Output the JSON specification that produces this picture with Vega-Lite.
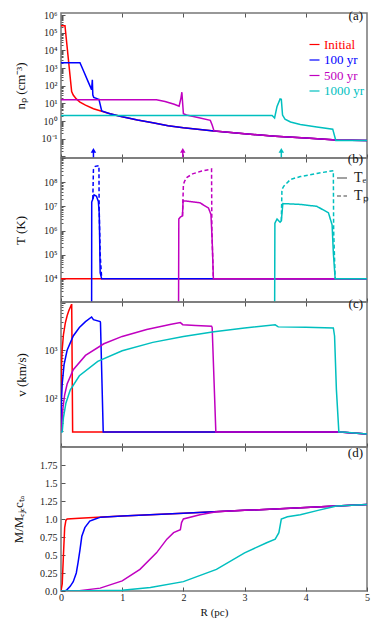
{
  "$schema": "https://vega.github.io/schema/vega-lite/v6.json",
  "padding": {"left": 11, "top": 9, "right": 14, "bottom": 5},
  "bounds": "flush",
  "spacing": 0,
  "resolve": {"scale": {"color": "independent", "strokeDash": "independent"}, "legend": {"color": "independent", "strokeDash": "independent"}},
  "config": {
    "font": "Liberation Serif, Times New Roman, serif",
    "view": {"stroke": "#777777", "strokeWidth": 1.5},
    "axis": {"domain": false, "grid": false, "tickColor": "#555555", "tickWidth": 1, "labelFont": "Liberation Serif, Times New Roman, serif", "titleFont": "Liberation Serif, Times New Roman, serif", "labelFontSize": 10, "titleFontSize": 13, "titleFontWeight": "normal", "labelColor": "#222222", "titleColor": "#111111", "labelOverlap": false},
    "legend": {"labelFont": "Liberation Serif, Times New Roman, serif"},
    "title": {"font": "Liberation Serif, Times New Roman, serif", "fontSize": 13, "fontWeight": "normal", "color": "#111111", "anchor": "end", "frame": "group", "offset": -13, "dx": -4}
  },
  "datasets": {
    "dens": [
      {"s":"Initial","x":0,"y":250000},{"s":"Initial","x":0.065,"y":250000},{"s":"Initial","x":0.174,"y":47},{"s":"Initial","x":0.2,"y":30},{"s":"Initial","x":0.25,"y":18},{"s":"Initial","x":0.31,"y":12},{"s":"Initial","x":0.4,"y":8},{"s":"Initial","x":0.53,"y":5},{"s":"Initial","x":0.665,"y":3.6},{"s":"Initial","x":0.8,"y":2.6},{"s":"Initial","x":1,"y":1.75},{"s":"Initial","x":1.25,"y":1.15},{"s":"Initial","x":1.5,"y":0.8},{"s":"Initial","x":1.75,"y":0.55},{"s":"Initial","x":2,"y":0.42},{"s":"Initial","x":2.5,"y":0.28},{"s":"Initial","x":3,"y":0.19},{"s":"Initial","x":3.5,"y":0.14},{"s":"Initial","x":4,"y":0.11},{"s":"Initial","x":4.5,"y":0.085},{"s":"Initial","x":5,"y":0.08},
      {"s":"100 yr","x":0,"y":2000},{"s":"100 yr","x":0.31,"y":2000},{"s":"100 yr","x":0.36,"y":800},{"s":"100 yr","x":0.45,"y":150},{"s":"100 yr","x":0.5,"y":60},{"s":"100 yr","x":0.512,"y":220},{"s":"100 yr","x":0.52,"y":30},{"s":"100 yr","x":0.535,"y":22},{"s":"100 yr","x":0.6,"y":18},{"s":"100 yr","x":0.62,"y":17},{"s":"100 yr","x":0.665,"y":3.8},{"s":"100 yr","x":0.8,"y":2.6},{"s":"100 yr","x":1,"y":1.75},{"s":"100 yr","x":1.25,"y":1.15},{"s":"100 yr","x":1.5,"y":0.8},{"s":"100 yr","x":1.75,"y":0.55},{"s":"100 yr","x":2,"y":0.42},{"s":"100 yr","x":2.5,"y":0.28},{"s":"100 yr","x":3,"y":0.19},{"s":"100 yr","x":3.5,"y":0.14},{"s":"100 yr","x":4,"y":0.11},{"s":"100 yr","x":4.5,"y":0.085},{"s":"100 yr","x":5,"y":0.08},
      {"s":"500 yr","x":0,"y":16},{"s":"500 yr","x":1.56,"y":16},{"s":"500 yr","x":1.7,"y":13},{"s":"500 yr","x":1.85,"y":9},{"s":"500 yr","x":1.93,"y":7},{"s":"500 yr","x":1.96,"y":20},{"s":"500 yr","x":1.975,"y":43},{"s":"500 yr","x":1.99,"y":8},{"s":"500 yr","x":2,"y":2.6},{"s":"500 yr","x":2.05,"y":2.2},{"s":"500 yr","x":2.2,"y":1.7},{"s":"500 yr","x":2.44,"y":1.1},{"s":"500 yr","x":2.47,"y":0.6},{"s":"500 yr","x":2.5,"y":0.28},{"s":"500 yr","x":3,"y":0.19},{"s":"500 yr","x":3.5,"y":0.14},{"s":"500 yr","x":4,"y":0.11},{"s":"500 yr","x":4.5,"y":0.085},{"s":"500 yr","x":5,"y":0.08},
      {"s":"1000 yr","x":0,"y":2.1},{"s":"1000 yr","x":3.45,"y":2.1},{"s":"1000 yr","x":3.49,"y":1.5},{"s":"1000 yr","x":3.53,"y":6.8},{"s":"1000 yr","x":3.58,"y":18},{"s":"1000 yr","x":3.6,"y":17},{"s":"1000 yr","x":3.62,"y":2.2},{"s":"1000 yr","x":3.66,"y":1.3},{"s":"1000 yr","x":3.75,"y":0.9},{"s":"1000 yr","x":3.91,"y":0.65},{"s":"1000 yr","x":4.18,"y":0.47},{"s":"1000 yr","x":4.44,"y":0.35},{"s":"1000 yr","x":4.49,"y":0.08},{"s":"1000 yr","x":5,"y":0.08}
    ],
    "arrows": [
      {"s":"100 yr","x":0.53},{"s":"500 yr","x":1.99},{"s":"1000 yr","x":3.6}
    ],
    "frame": [{"edge": "top"}],
    "temp": [
      {"s":"Initial","t":"Tₑ","x":0,"y":10000},{"s":"Initial","t":"Tₑ","x":5,"y":10000},
      {"s":"100 yr","t":"Tₑ","x":0,"y":100},{"s":"100 yr","t":"Tₑ","x":0.5,"y":100},{"s":"100 yr","t":"Tₑ","x":0.502,"y":15000000},{"s":"100 yr","t":"Tₑ","x":0.52,"y":20000000},{"s":"100 yr","t":"Tₑ","x":0.54,"y":30000000},{"s":"100 yr","t":"Tₑ","x":0.58,"y":26000000},{"s":"100 yr","t":"Tₑ","x":0.61,"y":16000000},{"s":"100 yr","t":"Tₑ","x":0.625,"y":5000000},{"s":"100 yr","t":"Tₑ","x":0.64,"y":18000},{"s":"100 yr","t":"Tₑ","x":0.665,"y":10000},{"s":"100 yr","t":"Tₑ","x":5,"y":10000},
      {"s":"100 yr","t":"Tₚ","x":0.52,"y":20000000},{"s":"100 yr","t":"Tₚ","x":0.53,"y":330000000},{"s":"100 yr","t":"Tₚ","x":0.56,"y":450000000},{"s":"100 yr","t":"Tₚ","x":0.62,"y":480000000},{"s":"100 yr","t":"Tₚ","x":0.623,"y":10000000},{"s":"100 yr","t":"Tₚ","x":0.64,"y":100000},{"s":"100 yr","t":"Tₚ","x":0.665,"y":10000},
      {"s":"500 yr","t":"Tₑ","x":0,"y":100},{"s":"500 yr","t":"Tₑ","x":1.92,"y":100},{"s":"500 yr","t":"Tₑ","x":1.925,"y":3000000},{"s":"500 yr","t":"Tₑ","x":1.95,"y":3600000},{"s":"500 yr","t":"Tₑ","x":1.985,"y":4000000},{"s":"500 yr","t":"Tₑ","x":1.995,"y":17000000},{"s":"500 yr","t":"Tₑ","x":2.1,"y":16000000},{"s":"500 yr","t":"Tₑ","x":2.27,"y":14000000},{"s":"500 yr","t":"Tₑ","x":2.41,"y":8500000},{"s":"500 yr","t":"Tₑ","x":2.45,"y":4600000},{"s":"500 yr","t":"Tₑ","x":2.47,"y":400000},{"s":"500 yr","t":"Tₑ","x":2.49,"y":10000},{"s":"500 yr","t":"Tₑ","x":5,"y":10000},
      {"s":"500 yr","t":"Tₚ","x":1.985,"y":4000000},{"s":"500 yr","t":"Tₚ","x":2,"y":80000000},{"s":"500 yr","t":"Tₚ","x":2.02,"y":110000000},{"s":"500 yr","t":"Tₚ","x":2.06,"y":160000000},{"s":"500 yr","t":"Tₚ","x":2.15,"y":220000000},{"s":"500 yr","t":"Tₚ","x":2.3,"y":290000000},{"s":"500 yr","t":"Tₚ","x":2.46,"y":350000000},{"s":"500 yr","t":"Tₚ","x":2.465,"y":1000000},{"s":"500 yr","t":"Tₚ","x":2.49,"y":10000},
      {"s":"1000 yr","t":"Tₑ","x":0,"y":100},{"s":"1000 yr","t":"Tₑ","x":3.49,"y":100},{"s":"1000 yr","t":"Tₑ","x":3.495,"y":2000000},{"s":"1000 yr","t":"Tₑ","x":3.53,"y":3000000},{"s":"1000 yr","t":"Tₑ","x":3.58,"y":2200000},{"s":"1000 yr","t":"Tₑ","x":3.6,"y":2500000},{"s":"1000 yr","t":"Tₑ","x":3.625,"y":13000000},{"s":"1000 yr","t":"Tₑ","x":3.91,"y":12000000},{"s":"1000 yr","t":"Tₑ","x":4.18,"y":10000000},{"s":"1000 yr","t":"Tₑ","x":4.37,"y":5400000},{"s":"1000 yr","t":"Tₑ","x":4.43,"y":1700000},{"s":"1000 yr","t":"Tₑ","x":4.45,"y":120000},{"s":"1000 yr","t":"Tₑ","x":4.48,"y":10000},{"s":"1000 yr","t":"Tₑ","x":5,"y":10000},
      {"s":"1000 yr","t":"Tₚ","x":3.6,"y":2500000},{"s":"1000 yr","t":"Tₚ","x":3.61,"y":50000000},{"s":"1000 yr","t":"Tₚ","x":3.64,"y":68000000},{"s":"1000 yr","t":"Tₚ","x":3.75,"y":130000000},{"s":"1000 yr","t":"Tₚ","x":3.91,"y":170000000},{"s":"1000 yr","t":"Tₚ","x":4.18,"y":230000000},{"s":"1000 yr","t":"Tₚ","x":4.45,"y":300000000},{"s":"1000 yr","t":"Tₚ","x":4.455,"y":1000000},{"s":"1000 yr","t":"Tₚ","x":4.48,"y":10000}
    ],
    "vel": [
      {"s":"Initial","x":0,"y":19.5},{"s":"Initial","x":0.005,"y":265},{"s":"Initial","x":0.01,"y":530},{"s":"Initial","x":0.02,"y":1060},{"s":"Initial","x":0.04,"y":2120},{"s":"Initial","x":0.07,"y":3710},{"s":"Initial","x":0.1,"y":5300},{"s":"Initial","x":0.13,"y":6890},{"s":"Initial","x":0.17,"y":9000},{"s":"Initial","x":0.175,"y":9000},{"s":"Initial","x":0.19,"y":19.5},{"s":"Initial","x":4.55,"y":19.5},{"s":"Initial","x":5,"y":17.5},
      {"s":"100 yr","x":0,"y":19.5},{"s":"100 yr","x":0.002,"y":20},{"s":"100 yr","x":0.005,"y":50},{"s":"100 yr","x":0.01,"y":100},{"s":"100 yr","x":0.02,"y":200},{"s":"100 yr","x":0.05,"y":500},{"s":"100 yr","x":0.1,"y":1000},{"s":"100 yr","x":0.2,"y":2000},{"s":"100 yr","x":0.3,"y":3000},{"s":"100 yr","x":0.4,"y":4000},{"s":"100 yr","x":0.5,"y":5000},{"s":"100 yr","x":0.53,"y":4400},{"s":"100 yr","x":0.64,"y":4000},{"s":"100 yr","x":0.645,"y":3800},{"s":"100 yr","x":0.69,"y":19.5},{"s":"100 yr","x":4.55,"y":19.5},{"s":"100 yr","x":5,"y":17.5},
      {"s":"500 yr","x":0,"y":19.5},{"s":"500 yr","x":0.01,"y":19.6},{"s":"500 yr","x":0.015,"y":29},{"s":"500 yr","x":0.03,"y":59},{"s":"500 yr","x":0.06,"y":117},{"s":"500 yr","x":0.1,"y":196},{"s":"500 yr","x":0.2,"y":391},{"s":"500 yr","x":0.4,"y":782},{"s":"500 yr","x":0.7,"y":1370},{"s":"500 yr","x":1,"y":1955},{"s":"500 yr","x":1.4,"y":2740},{"s":"500 yr","x":1.8,"y":3520},{"s":"500 yr","x":1.95,"y":3810},{"s":"500 yr","x":1.99,"y":3450},{"s":"500 yr","x":2.2,"y":3330},{"s":"500 yr","x":2.46,"y":3200},{"s":"500 yr","x":2.47,"y":3000},{"s":"500 yr","x":2.53,"y":19.5},{"s":"500 yr","x":4.55,"y":19.5},{"s":"500 yr","x":5,"y":17.5},
      {"s":"1000 yr","x":0,"y":19.5},{"s":"1000 yr","x":0.02,"y":19.6},{"s":"1000 yr","x":0.04,"y":39},{"s":"1000 yr","x":0.08,"y":78},{"s":"1000 yr","x":0.15,"y":147},{"s":"1000 yr","x":0.3,"y":293},{"s":"1000 yr","x":0.6,"y":587},{"s":"1000 yr","x":1,"y":978},{"s":"1000 yr","x":1.5,"y":1467},{"s":"1000 yr","x":2,"y":1956},{"s":"1000 yr","x":2.5,"y":2445},{"s":"1000 yr","x":3,"y":2934},{"s":"1000 yr","x":3.5,"y":3420},{"s":"1000 yr","x":3.55,"y":3100},{"s":"1000 yr","x":4,"y":3050},{"s":"1000 yr","x":4.45,"y":2950},{"s":"1000 yr","x":4.47,"y":2000},{"s":"1000 yr","x":4.5,"y":150},{"s":"1000 yr","x":4.54,"y":19.5},{"s":"1000 yr","x":4.6,"y":19.5},{"s":"1000 yr","x":5,"y":17.5}
    ],
    "mass": [
      {"s":"Initial","x":0,"y":0},{"s":"Initial","x":0.02,"y":0.1},{"s":"Initial","x":0.04,"y":0.5},{"s":"Initial","x":0.06,"y":0.88},{"s":"Initial","x":0.08,"y":0.98},{"s":"Initial","x":0.1,"y":1},{"s":"Initial","x":0.3,"y":1.01},{"s":"Initial","x":0.6,"y":1.024},{"s":"Initial","x":1,"y":1.04},{"s":"Initial","x":2,"y":1.08},{"s":"Initial","x":3,"y":1.12},{"s":"Initial","x":4,"y":1.16},{"s":"Initial","x":5,"y":1.2},
      {"s":"100 yr","x":0,"y":0},{"s":"100 yr","x":0.065,"y":0},{"s":"100 yr","x":0.1,"y":0.02},{"s":"100 yr","x":0.15,"y":0.065},{"s":"100 yr","x":0.2,"y":0.13},{"s":"100 yr","x":0.25,"y":0.25},{"s":"100 yr","x":0.28,"y":0.4},{"s":"100 yr","x":0.31,"y":0.57},{"s":"100 yr","x":0.34,"y":0.76},{"s":"100 yr","x":0.39,"y":0.88},{"s":"100 yr","x":0.47,"y":0.97},{"s":"100 yr","x":0.56,"y":1},{"s":"100 yr","x":0.65,"y":1.026},{"s":"100 yr","x":1,"y":1.04},{"s":"100 yr","x":2,"y":1.08},{"s":"100 yr","x":3,"y":1.12},{"s":"100 yr","x":4,"y":1.16},{"s":"100 yr","x":5,"y":1.2},
      {"s":"500 yr","x":0,"y":0},{"s":"500 yr","x":0.3,"y":0.005},{"s":"500 yr","x":0.64,"y":0.04},{"s":"500 yr","x":1,"y":0.14},{"s":"500 yr","x":1.29,"y":0.3},{"s":"500 yr","x":1.56,"y":0.53},{"s":"500 yr","x":1.73,"y":0.72},{"s":"500 yr","x":1.84,"y":0.81},{"s":"500 yr","x":1.95,"y":0.85},{"s":"500 yr","x":1.97,"y":0.95},{"s":"500 yr","x":2,"y":1},{"s":"500 yr","x":2.27,"y":1.06},{"s":"500 yr","x":2.54,"y":1.1},{"s":"500 yr","x":3,"y":1.12},{"s":"500 yr","x":4,"y":1.16},{"s":"500 yr","x":5,"y":1.2},
      {"s":"1000 yr","x":0,"y":0},{"s":"1000 yr","x":0.5,"y":0.002},{"s":"1000 yr","x":1,"y":0.01},{"s":"1000 yr","x":1.46,"y":0.05},{"s":"1000 yr","x":2,"y":0.13},{"s":"1000 yr","x":2.54,"y":0.3},{"s":"1000 yr","x":3,"y":0.53},{"s":"1000 yr","x":3.36,"y":0.67},{"s":"1000 yr","x":3.5,"y":0.72},{"s":"1000 yr","x":3.56,"y":0.81},{"s":"1000 yr","x":3.6,"y":1},{"s":"1000 yr","x":3.7,"y":1.03},{"s":"1000 yr","x":3.91,"y":1.06},{"s":"1000 yr","x":4.2,"y":1.12},{"s":"1000 yr","x":4.45,"y":1.17},{"s":"1000 yr","x":4.5,"y":1.18},{"s":"1000 yr","x":5,"y":1.2}
    ]
  },
  "vconcat": [
    {
      "width": 306, "height": 145,
      "title": {"text": "(a)"},
      "layer": [
        {
          "data": {"name": "dens"},
          "mark": {"type": "line", "strokeWidth": 1.5, "clip": true},
          "encoding": {
            "x": {"field": "x", "type": "quantitative", "scale": {"domain": [0, 5], "nice": false}, "axis": {"orient": "bottom", "values": [0,1,2,3,4,5], "labels": false, "title": null, "tickSize": -4}},
            "y": {"field": "y", "type": "quantitative", "scale": {"type": "log", "domain": [0.0082, 1300000], "nice": false},
              "axis": {"title": "nₚ (cm⁻³)", "tickCount": 40, "tickSize": {"condition": {"test": "abs(log(datum.value)/LN10 - round(log(datum.value)/LN10)) < 0.01", "value": -4}, "value": -2},
                "labelExpr": "abs(log(datum.value)/LN10 - round(log(datum.value)/LN10)) < 0.01 && datum.value > 0.05 && datum.value < 2000000 ? '10' + ['⁻²','⁻¹','⁰','¹','²','³','⁴','⁵','⁶','⁷','⁸','⁹'][round(log(datum.value)/LN10)+2] : ''",
                "labelPadding": 8, "titlePadding": 14}},
            "color": {"field": "s", "type": "nominal", "scale": {"domain": ["Initial","100 yr","500 yr","1000 yr"], "range": ["#ff0000","#0000ff","#c000c0","#00bfbf"]},
              "legend": {"title": null, "orient": "none", "legendX": 247, "legendY": 25, "symbolType": "stroke", "symbolSize": 100, "symbolStrokeWidth": 1.2, "symbolOpacity": 0.45, "labelFontSize": 13, "labelOffset": 3, "rowPadding": 1.5,
                "labelColor": {"expr": "datum.value == 'Initial' ? '#ff0000' : datum.value == '100 yr' ? '#0000ff' : datum.value == '500 yr' ? '#c000c0' : '#00bfbf'"}}}
          }
        },
        {
          "data": {"name": "arrows"},
          "mark": {"type": "rule", "strokeWidth": 1.5},
          "encoding": {
            "x": {"field": "x", "type": "quantitative", "axis": null},
            "y": {"datum": 0.0083},
            "y2": {"datum": 0.022},
            "color": {"field": "s", "type": "nominal"}
          }
        },
        {
          "data": {"name": "arrows"},
          "mark": {"type": "point", "shape": "triangle-up", "filled": true, "size": 30, "opacity": 1},
          "encoding": {
            "x": {"field": "x", "type": "quantitative", "axis": null},
            "y": {"datum": 0.022},
            "color": {"field": "s", "type": "nominal"}
          }
        },
        {
          "data": {"name": "frame"},
          "mark": {"type": "rule", "opacity": 0},
          "encoding": {
            "x": {"datum": 0, "type": "quantitative", "axis": {"orient": "top", "values": [1,2,3,4], "labels": false, "title": null, "tickSize": -4}}
          }
        }
      ]
    },
    {
      "width": 306, "height": 144,
      "title": {"text": "(b)"},
      "layer": [
        {
          "data": {"name": "temp"},
          "mark": {"type": "line", "strokeWidth": 1.5, "clip": true},
          "encoding": {
            "x": {"field": "x", "type": "quantitative", "scale": {"domain": [0, 5], "nice": false}, "axis": {"orient": "bottom", "values": [0,1,2,3,4,5], "labels": false, "title": null, "tickSize": -4}},
            "y": {"field": "y", "type": "quantitative", "scale": {"type": "log", "domain": [1100, 1000000000], "nice": false},
              "axis": {"title": "T (K)", "tickCount": 40, "tickSize": {"condition": {"test": "abs(log(datum.value)/LN10 - round(log(datum.value)/LN10)) < 0.01", "value": -4}, "value": -2},
                "labelExpr": "abs(log(datum.value)/LN10 - round(log(datum.value)/LN10)) < 0.01 && datum.value > 5000 && datum.value < 500000000 ? '10' + ['⁻²','⁻¹','⁰','¹','²','³','⁴','⁵','⁶','⁷','⁸','⁹'][round(log(datum.value)/LN10)+2] : ''",
                "labelPadding": 8, "titlePadding": 16}},
            "color": {"field": "s", "type": "nominal", "scale": {"domain": ["Initial","100 yr","500 yr","1000 yr"], "range": ["#ff0000","#0000ff","#c000c0","#00bfbf"]}, "legend": null},
            "strokeDash": {"field": "t", "type": "nominal", "scale": {"domain": ["Tₑ","Tₚ"], "range": [[1,0],[4,2.5]]},
              "legend": {"title": null, "orient": "none", "legendX": 274, "legendY": 13, "symbolType": "stroke", "symbolSize": 100, "symbolStrokeWidth": 1.2, "symbolStrokeColor": "#444444", "labelFontSize": 14, "labelOffset": 5, "rowPadding": 4, "labelColor": "#222222"}},
            "detail": {"field": "s"}
          }
        },
        {
          "data": {"name": "frame"},
          "mark": {"type": "rule", "opacity": 0},
          "encoding": {
            "x": {"datum": 0, "type": "quantitative", "axis": {"orient": "top", "values": [1,2,3,4], "labels": false, "title": null, "tickSize": -4}}
          }
        }
      ]
    },
    {
      "width": 306, "height": 145,
      "title": {"text": "(c)"},
      "layer": [
        {
          "data": {"name": "vel"},
          "mark": {"type": "line", "strokeWidth": 1.5, "clip": true},
          "encoding": {
            "x": {"field": "x", "type": "quantitative", "scale": {"domain": [0, 5], "nice": false}, "axis": {"orient": "bottom", "values": [0,1,2,3,4,5], "labels": false, "title": null, "tickSize": -4}},
            "y": {"field": "y", "type": "quantitative", "scale": {"type": "log", "domain": [9.4, 10300], "nice": false},
              "axis": {"title": "v (km/s)", "tickCount": 40, "tickSize": {"condition": {"test": "abs(log(datum.value)/LN10 - round(log(datum.value)/LN10)) < 0.01", "value": -4}, "value": -2},
                "labelExpr": "abs(log(datum.value)/LN10 - round(log(datum.value)/LN10)) < 0.01 && datum.value > 50 && datum.value < 5000 ? '10' + ['⁻²','⁻¹','⁰','¹','²','³','⁴','⁵','⁶','⁷','⁸','⁹'][round(log(datum.value)/LN10)+2] : ''",
                "labelPadding": 8, "titlePadding": 16}},
            "color": {"field": "s", "type": "nominal", "scale": {"domain": ["Initial","100 yr","500 yr","1000 yr"], "range": ["#ff0000","#0000ff","#c000c0","#00bfbf"]}, "legend": null}
          }
        },
        {
          "data": {"name": "frame"},
          "mark": {"type": "rule", "opacity": 0},
          "encoding": {
            "x": {"datum": 0, "type": "quantitative", "axis": {"orient": "top", "values": [1,2,3,4], "labels": false, "title": null, "tickSize": -4}}
          }
        }
      ]
    },
    {
      "width": 306, "height": 144,
      "title": {"text": "(d)"},
      "layer": [
        {
          "data": {"name": "mass"},
          "mark": {"type": "line", "strokeWidth": 1.5, "clip": true},
          "encoding": {
            "x": {"field": "x", "type": "quantitative", "scale": {"domain": [0, 5], "nice": false}, "axis": {"orient": "bottom", "values": [0,1,2,3,4,5], "title": "R (pc)", "tickSize": -4, "labelPadding": 5, "labelFontSize": 10, "titleFontSize": 11, "titlePadding": 4, "labelFlush": false}},
            "y": {"field": "y", "type": "quantitative", "scale": {"domain": [0, 2], "nice": false, "zero": false},
              "axis": {"title": "M/Mₑⱼₑcₜₐ", "values": [0,0.25,0.5,0.75,1,1.25,1.5,1.75], "tickSize": -4,
                "labelExpr": "datum.value == 0 || datum.value == 0.5 || datum.value == 1 || datum.value == 1.5 ? format(datum.value, '.1f') : format(datum.value, '.2f')",
                "labelPadding": 8, "titlePadding": 14}},
            "color": {"field": "s", "type": "nominal", "scale": {"domain": ["Initial","100 yr","500 yr","1000 yr"], "range": ["#ff0000","#0000ff","#c000c0","#00bfbf"]}, "legend": null}
          }
        },
        {
          "data": {"name": "frame"},
          "mark": {"type": "rule", "opacity": 0},
          "encoding": {
            "x": {"datum": 0, "type": "quantitative", "axis": {"orient": "top", "values": [1,2,3,4], "labels": false, "title": null, "tickSize": -4}}
          }
        }
      ]
    }
  ]
}
